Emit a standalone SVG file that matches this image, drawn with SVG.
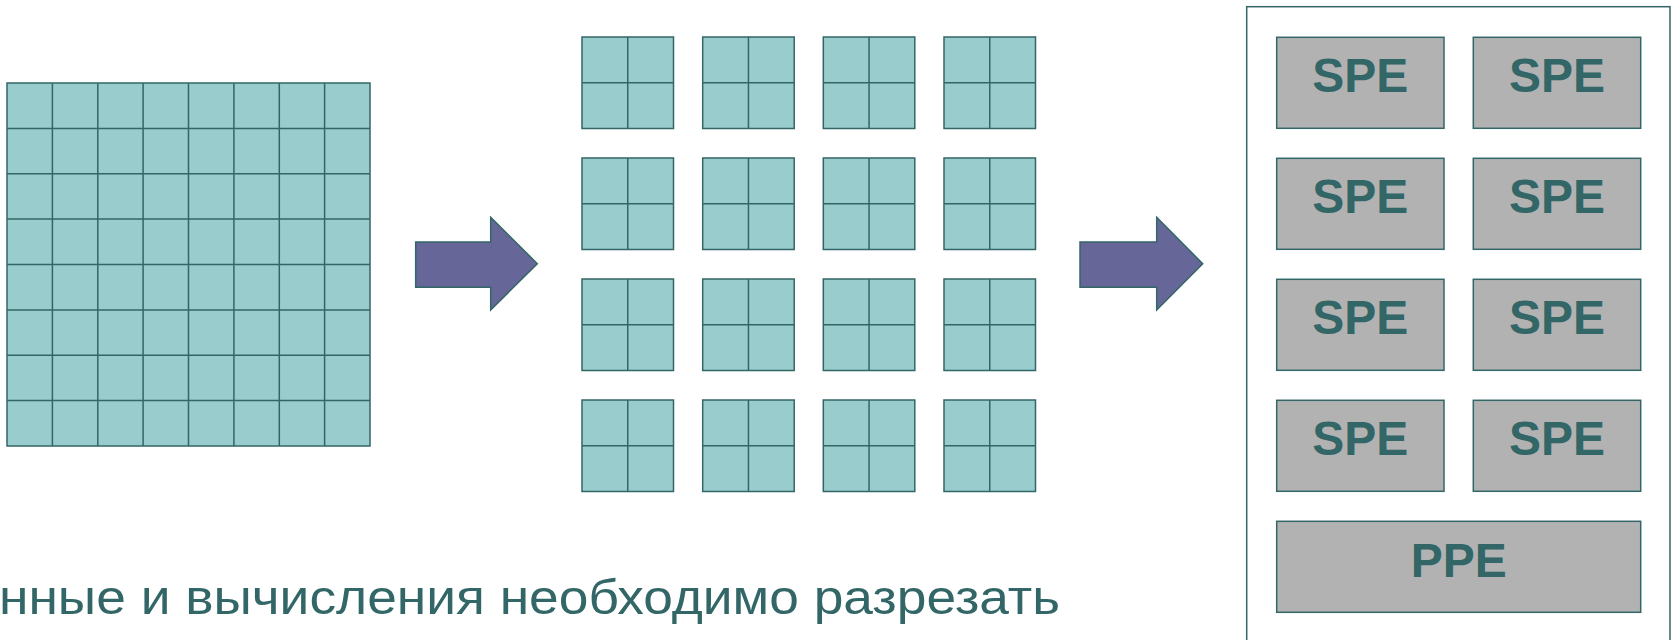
<svg xmlns="http://www.w3.org/2000/svg" width="1672" height="640" viewBox="0 0 1672 640">
  <defs>
    <style>
      .cell { fill: #99CCCC; stroke: #336666; stroke-width: 1.5; }
      .grid { fill: none; stroke: #336666; stroke-width: 1.5; }
      .arrow { fill: #666699; stroke: #336666; stroke-width: 1.5; stroke-linejoin: miter; }
      .chip { fill: #FFFFFF; stroke: #336666; stroke-width: 1.5; }
      .unit { fill: #B2B2B2; stroke: #336666; stroke-width: 1.5; }
      .unit-label { font-family: "Liberation Sans", Arial, sans-serif; font-weight: bold; font-size: 48px; fill: #336666; text-anchor: middle; }
      .caption { font-family: "Liberation Sans", Arial, sans-serif; font-size: 48px; fill: #336666; }
    </style>
    <!-- 2x2 tile -->
    <g id="tile">
      <rect class="cell" x="0" y="0" width="91.5" height="91.5"/>
      <path class="grid" d="M45.75 0V91.5M0 45.75H91.5"/>
    </g>
  </defs>

  <!-- whole data set: 8x8 grid -->
  <g id="data-grid">
    <rect class="cell" x="7" y="83" width="363" height="363"/>
    <path class="grid" d="M52.4 83V446M97.8 83V446M143.1 83V446M188.5 83V446M233.9 83V446M279.3 83V446M324.6 83V446
                          M7 128.4H370M7 173.8H370M7 219.1H370M7 264.5H370M7 309.9H370M7 355.3H370M7 400.6H370"/>
  </g>

  <!-- data cut into 4x4 tiles -->
  <g id="tiles">
    <use href="#tile" x="582" y="37"/><use href="#tile" x="702.7" y="37"/><use href="#tile" x="823.3" y="37"/><use href="#tile" x="944" y="37"/>
    <use href="#tile" x="582" y="158"/><use href="#tile" x="702.7" y="158"/><use href="#tile" x="823.3" y="158"/><use href="#tile" x="944" y="158"/>
    <use href="#tile" x="582" y="279"/><use href="#tile" x="702.7" y="279"/><use href="#tile" x="823.3" y="279"/><use href="#tile" x="944" y="279"/>
    <use href="#tile" x="582" y="400"/><use href="#tile" x="702.7" y="400"/><use href="#tile" x="823.3" y="400"/><use href="#tile" x="944" y="400"/>
  </g>

  <!-- block arrows -->
  <g id="connectors">
    <path class="arrow" d="M415.7 242H490.7V217.3L537.3 263.7L490.7 310V287.3H415.7Z"/>
    <path class="arrow" d="M1080 242H1156.7V217.3L1202.7 263.7L1156.7 310V287.3H1080Z"/>
  </g>

  <!-- Cell processor -->
  <g id="chip">
    <rect class="chip" x="1246.7" y="6.7" width="423.3" height="660"/>
  </g>
  <g id="spe-1"><rect class="unit" x="1276.7" y="37.3" width="167.3" height="91"/><text class="unit-label" x="1360.3" y="92">SPE</text></g>
  <g id="spe-2"><rect class="unit" x="1473.3" y="37.3" width="167.4" height="91"/><text class="unit-label" x="1557" y="92">SPE</text></g>
  <g id="spe-3"><rect class="unit" x="1276.7" y="158.3" width="167.3" height="91"/><text class="unit-label" x="1360.3" y="213">SPE</text></g>
  <g id="spe-4"><rect class="unit" x="1473.3" y="158.3" width="167.4" height="91"/><text class="unit-label" x="1557" y="213">SPE</text></g>
  <g id="spe-5"><rect class="unit" x="1276.7" y="279.3" width="167.3" height="91"/><text class="unit-label" x="1360.3" y="334">SPE</text></g>
  <g id="spe-6"><rect class="unit" x="1473.3" y="279.3" width="167.4" height="91"/><text class="unit-label" x="1557" y="334">SPE</text></g>
  <g id="spe-7"><rect class="unit" x="1276.7" y="400.3" width="167.3" height="91"/><text class="unit-label" x="1360.3" y="455">SPE</text></g>
  <g id="spe-8"><rect class="unit" x="1473.3" y="400.3" width="167.4" height="91"/><text class="unit-label" x="1557" y="455">SPE</text></g>
  <g id="ppe"><rect class="unit" x="1276.7" y="521.3" width="364" height="91"/><text class="unit-label" x="1458.7" y="576.5">PPE</text></g>

  <!-- caption, stretched to the slide's text box width -->
  <text class="caption" x="-1" y="614.3" textLength="1061" lengthAdjust="spacingAndGlyphs">нные и вычисления необходимо разрезать</text>
</svg>
